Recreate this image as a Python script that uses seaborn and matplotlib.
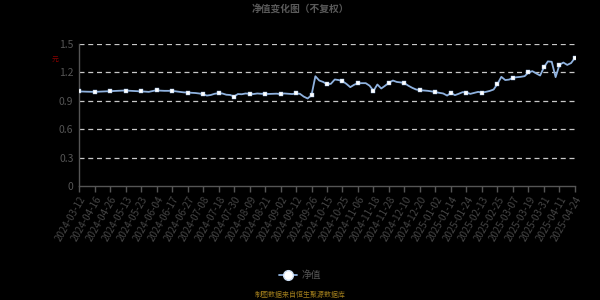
import numpy as np
import pandas as pd
import matplotlib
matplotlib.use("Agg")
import matplotlib.pyplot as plt
import seaborn as sns
from matplotlib.lines import Line2D

# ---- data ----
tick_dates = ["2024-03-12", "2024-04-16", "2024-04-26", "2024-05-13", "2024-05-23",
              "2024-06-04", "2024-06-17", "2024-06-27", "2024-07-08", "2024-07-18",
              "2024-07-30", "2024-08-09", "2024-08-21", "2024-09-02", "2024-09-12",
              "2024-09-26", "2024-10-15", "2024-10-25", "2024-11-06", "2024-11-18",
              "2024-11-28", "2024-12-10", "2024-12-20", "2025-01-02", "2025-01-14",
              "2025-01-24", "2025-02-13", "2025-02-25", "2025-03-07", "2025-03-19",
              "2025-03-31", "2025-04-11", "2025-04-24"]

# net value, 4 observations per labelled interval (first of each group is at the label)
nav = [
    1.000, 0.998, 0.997, 0.996,
    0.995, 0.997, 0.999, 1.000,
    1.002, 1.004, 1.006, 1.008,
    1.009, 1.007, 1.005, 1.003,
    1.002, 0.998, 0.995, 1.004,
    1.013, 1.008, 1.006, 1.006,
    1.006, 1.000, 0.995, 0.990,
    0.988, 0.985, 0.983, 0.978,
    0.971, 0.956, 0.962, 0.975,
    0.981, 0.978, 0.965, 0.962,
    0.946, 0.972, 0.970, 0.978,
    0.974, 0.972, 0.978, 0.975,
    0.974, 0.973, 0.975, 0.976,
    0.971, 0.978, 0.975, 0.972,
    0.978, 0.975, 0.945, 0.925,
    0.960, 1.160, 1.115, 1.100,
    1.076, 1.080, 1.126, 1.120,
    1.108, 1.080, 1.045, 1.070,
    1.087, 1.087, 1.087, 1.060,
    1.006, 1.073, 1.031, 1.060,
    1.091, 1.115, 1.100, 1.095,
    1.087, 1.060, 1.038, 1.020,
    1.013, 1.010, 1.006, 1.000,
    0.992, 0.985, 0.978, 0.956,
    0.985, 0.960, 0.975, 0.992,
    0.988, 0.974, 0.985, 0.995,
    0.988, 0.995, 1.005, 1.020,
    1.080, 1.154, 1.120, 1.125,
    1.144, 1.150, 1.154, 1.161,
    1.200, 1.214, 1.190, 1.168,
    1.256, 1.317, 1.313, 1.151,
    1.281, 1.305, 1.280, 1.300,
    1.355,
]
per_tick = 4
yticks = [0, 0.3, 0.6, 0.9, 1.2, 1.5]

df = pd.DataFrame({"idx": np.arange(len(nav)), "nav": nav})
marks = df[df["idx"] % per_tick == 0]

sns.set_style("dark")
plt.rcParams["font.family"] = ["Noto Sans CJK SC", "DejaVu Sans"]
plt.rcParams["axes.unicode_minus"] = False

fig = plt.figure(figsize=(6, 3), dpi=100, facecolor="black")
ax = fig.add_axes([0.1317, 0.38, 0.8266, 0.473])
ax.set_facecolor("black")

line_c = "#8fb2df"
sns.lineplot(data=df, x="idx", y="nav", ax=ax, color=line_c, linewidth=1.3, zorder=3)
sns.scatterplot(data=marks, x="idx", y="nav", ax=ax, color="white", edgecolor=line_c,
                linewidth=0.3, s=6, marker="s", zorder=4)

ax.set_xlim(0, len(nav) - 1)
ax.set_ylim(0, 1.5)
ax.set_yticks(yticks)
ax.set_yticklabels(["0", "0.3", "0.6", "0.9", "1.2", "1.5"])
ax.set_xticks(np.arange(0, len(nav), per_tick))
ax.set_xticklabels(tick_dates, rotation=60, ha="right", rotation_mode="anchor")
ax.set_xlabel("")
ax.set_ylabel("")

for v in yticks[1:]:
    ax.axhline(v, color="#c8c8c8", linewidth=0.9, linestyle=(0, (4, 3)), zorder=1)
ax.grid(False)

for s in ["top", "right"]:
    ax.spines[s].set_visible(False)
for s in ["left", "bottom"]:
    ax.spines[s].set_visible(True)
    ax.spines[s].set_color("#555555")
    ax.spines[s].set_linewidth(1)

ax.tick_params(axis="x", colors="#555555", labelcolor="#454545", labelsize=7,
               length=4, width=1, direction="out", pad=2, bottom=True)
ax.tick_params(axis="y", colors="#555555", labelcolor="#555555", labelsize=7.5,
               length=0, pad=4, left=False)

fig.text(0.5, 0.972, "净值变化图（不复权）", ha="center", va="center",
         color="#5a5a5a", fontsize=7, fontweight="bold")
fig.text(0.092, 0.8, "元", ha="center", va="center", color="#8b0000", fontsize=5)

# legend
handle = Line2D([0], [0], color=line_c, linewidth=1.3, marker="o", markersize=7,
                markerfacecolor="white", markeredgecolor="#cfe0f5")
leg = fig.legend([handle], ["净值"], loc="center", bbox_to_anchor=(0.5, 0.083),
                 frameon=False, fontsize=7, handlelength=1.8, handletextpad=0.5)
for t in leg.get_texts():
    t.set_color("#555555")

fig.text(0.5, 0.018, "制图数据来自恒生聚源数据库", ha="center", va="center",
         color="#a07d1c", fontsize=5)

fig.savefig("out.png", dpi=100, facecolor="black")
